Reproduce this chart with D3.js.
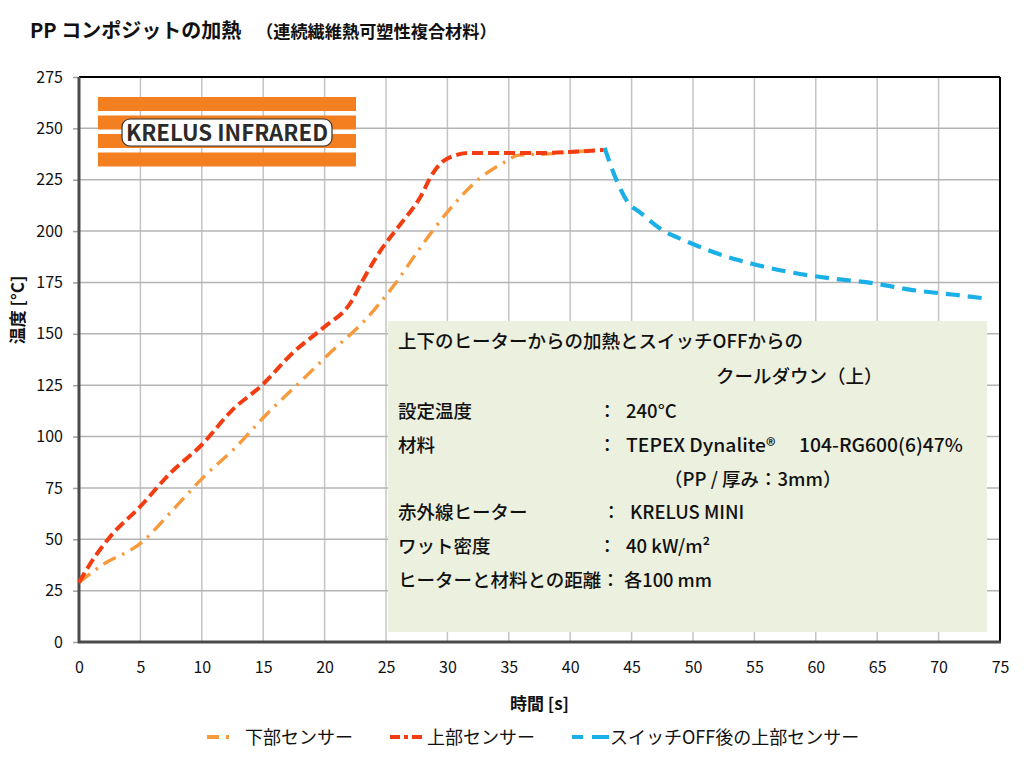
<!DOCTYPE html>
<html><head><meta charset="utf-8">
<script src="https://cdn.jsdelivr.net/npm/d3@7"></script>
<style>
html,body{margin:0;padding:0;background:#fff;}
svg{display:block;}
text{font-family:"Noto Sans CJK JP","Noto Sans",sans-serif;}
</style></head>
<body>
<svg id="c" width="1024" height="768"></svg>
<script>
// ---- data ----
const timeLower = [0, 1.9, 5, 7.6, 10.1, 12.8, 15.3, 18, 20.6, 23.3, 25.7, 27.8, 30.1, 32.7, 34.5, 35.8, 37.9, 41.2, 42.8];
const tempLower = [29, 37.5, 48, 64, 80, 95, 111, 126.5, 141.6, 156.7, 174, 192, 210, 226, 233, 237, 237.5, 239, 239.5];
const timeUpper = [0, 0.8, 2.5, 5, 7.4, 10, 12.5, 14.9, 17.4, 19.9, 22.1, 23.1, 24.5, 26, 27.8, 28.8, 29.9, 31.8, 34.5, 37.5, 40.5, 42.7];
const tempUpper = [29, 37, 51, 66, 82, 96, 113, 125, 140.7, 153, 165, 176, 190, 202, 216.6, 228, 235, 238, 238, 238, 238.7, 239.5];
const timeCool = [42.8, 43.9, 44.7, 45.7, 47.5, 49.2, 51.2, 53.6, 55.2, 57.9, 61.2, 64.6, 67.9, 71.3, 74.1];
const tempCool = [240.5, 223, 214, 209, 200.5, 195.7, 190.8, 186, 183.5, 180, 177, 174.7, 171.3, 169, 167];
const xTicks = d3.range(0, 76, 5);
const yTicks = d3.range(0, 276, 25);
const seriesNames = ["下部センサー", "上部センサー", "スイッチOFF後の上部センサー"];
const titleMain = "PP コンポジットの加熱";
const titleSub = "（連続繊維熱可塑性複合材料）";
const xLabel = "時間 [s]";
const yLabel = "温度 [°C]";
const logoText = "KRELUS INFRARED";
const noteLines = [
  ["上下のヒーターからの加熱とスイッチOFFからの", "", ""],
  ["", "", "クールダウン（上）"],
  ["設定温度", "：", "240°C"],
  ["材料", "：", "TEPEX Dynalite®　 104-RG600(6)47%"],
  ["", "", "（PP / 厚み：3mm）"],
  ["赤外線ヒーター", "：", "KRELUS MINI"],
  ["ワット密度", "：", "40 kW/m²"],
  ["ヒーターと材料との距離：", "", "各100 mm"]
];

// ---- layout ----
const svg = d3.select("#c");
const L = 79, R = 1000, T = 77, B = 642;
const x = d3.scaleLinear().domain([0, 75]).range([L, R]);
const y = d3.scaleLinear().domain([0, 275]).range([B, T]);

// title
svg.append("text").attr("x", 30).attr("y", 38).attr("font-size", 20).attr("font-weight", 700)
  .attr("fill", "#111").text(titleMain);
svg.append("text").attr("x", 256).attr("y", 38).attr("font-size", 17.2).attr("font-weight", 700)
  .attr("fill", "#111").text(titleSub);

// grid
const g = svg.append("g");
g.selectAll("line.v").data(xTicks.slice(1, -1)).join("line")
  .attr("x1", d => x(d)).attr("x2", d => x(d)).attr("y1", T).attr("y2", B)
  .attr("stroke", "#c4c4c4").attr("stroke-width", 1.5);
g.selectAll("line.h").data(yTicks.slice(1, -1)).join("line")
  .attr("x1", L).attr("x2", R).attr("y1", d => y(d)).attr("y2", d => y(d))
  .attr("stroke", "#b4b4b4").attr("stroke-width", 1.5);

// y axis
const yAxis = svg.append("g").attr("transform", `translate(${L},0)`)
  .call(d3.axisLeft(y).tickValues(yTicks).tickSize(6).tickPadding(10));
yAxis.select(".domain").remove();
yAxis.selectAll(".tick line").attr("stroke", "#a0a0a0").attr("stroke-width", 1.5);
yAxis.selectAll(".tick text").attr("font-family", "Lato, 'Open Sans', sans-serif").attr("font-size", 16).attr("fill", "#111");

// x axis
const xAxis = svg.append("g").attr("transform", `translate(0,${B})`)
  .call(d3.axisBottom(x).tickValues(xTicks).tickSize(0).tickPadding(20));
xAxis.select(".domain").remove();
xAxis.selectAll(".tick text").attr("font-family", "Lato, 'Open Sans', sans-serif").attr("font-size", 16).attr("fill", "#111");

// frame
svg.append("line").attr("x1", L).attr("x2", R).attr("y1", T).attr("y2", T).attr("stroke", "#000").attr("stroke-width", 2);
svg.append("line").attr("x1", R).attr("x2", R).attr("y1", T).attr("y2", B).attr("stroke", "#000").attr("stroke-width", 2);
svg.append("line").attr("x1", L).attr("x2", L).attr("y1", T).attr("y2", B + 1).attr("stroke", "#4a4a4a").attr("stroke-width", 3);
svg.append("line").attr("x1", L - 1).attr("x2", R + 1).attr("y1", B).attr("y2", B).attr("stroke", "#4a4a4a").attr("stroke-width", 3);

// logo
const logo = svg.append("g");
[[97, 14], [115.5, 14], [134, 14], [152.5, 14]].forEach(([yy, h]) =>
  logo.append("rect").attr("x", 98).attr("y", yy).attr("width", 258).attr("height", h).attr("fill", "#f47f20"));
logo.append("rect").attr("x", 122).attr("y", 119).attr("width", 210).attr("height", 27).attr("rx", 8)
  .attr("fill", "#fff").attr("stroke", "#333").attr("stroke-width", 1.2);
logo.append("text").attr("x", 227).attr("y", 141).attr("text-anchor", "middle")
  .attr("font-family", "Roboto, 'Liberation Sans', sans-serif").attr("font-size", 22).attr("font-weight", 700)
  .attr("fill", "#2b2b2b").attr("textLength", 202).attr("lengthAdjust", "spacingAndGlyphs").text(logoText);

// note box
svg.append("rect").attr("x", 388).attr("y", 321).attr("width", 599).attr("height", 311).attr("fill", "#ebf0df");
const noteY = [341, 376, 411, 445, 479, 512, 546, 580];
const note = svg.append("g").attr("font-size", 18.5).attr("font-weight", 500).attr("fill", "#111");
noteLines.forEach((ln, i) => {
  const yy = noteY[i] + 6.5;
  if (i === 1) { note.append("text").attr("x", 716).attr("y", yy).text(ln[2]); return; }
  if (i === 4) { note.append("text").attr("x", 664).attr("y", yy).text(ln[2]); return; }
  note.append("text").attr("x", 398).attr("y", yy).text(ln[0]);
  if (ln[1]) note.append("text").attr("x", i === 5 ? 602 : 598).attr("y", yy).text(ln[1]);
  if (ln[2]) {
    const t = note.append("text").attr("x", i === 7 ? 624 : (i === 5 ? 630 : 626)).attr("y", yy)
      .attr("font-family", i === 7 ? null : "'Roboto','Noto Sans',sans-serif").text(ln[2]);
    if (i === 3) t.attr("textLength", 337).attr("lengthAdjust", "spacingAndGlyphs");
    if (i === 7) t.attr("textLength", 88).attr("lengthAdjust", "spacingAndGlyphs");
  }
});

// lines
const line = d3.line().x(d => x(d[0])).y(d => y(d[1])).curve(d3.curveMonotoneX);
const styles = [
  {c: "#f79a3c", dash: "14 7 2.5 7", w: 3.4},
  {c: "#f23c12", dash: "11 5", w: 4},
  {c: "#1aafe6", dash: "14 8", w: 4.2}
];
const series = [
  d3.zip(timeLower, tempLower),
  d3.zip(timeUpper, tempUpper),
  d3.zip(timeCool, tempCool)
];
series.forEach((s, i) => {
  svg.append("path").datum(s).attr("d", line).attr("fill", "none")
    .attr("stroke", styles[i].c).attr("stroke-width", styles[i].w)
    .attr("stroke-dasharray", styles[i].dash).attr("stroke-linecap", "butt");
});

// axis titles
svg.append("text").attr("x", (L + R) / 2).attr("y", 710).attr("text-anchor", "middle")
  .attr("font-size", 17).attr("font-weight", 700).attr("fill", "#111").text(xLabel);
svg.append("text").attr("transform", "translate(24,310) rotate(-90)").attr("text-anchor", "middle")
  .attr("font-size", 17).attr("font-weight", 700).attr("fill", "#111").text(yLabel);

// legend
const legX = [[207, 236, 245], [390, 426, 427], [572, 609, 610]];
const legDash = ["12 7 3 7", "10 4 4 4", "11 9 8 0"];
seriesNames.forEach((n, i) => {
  svg.append("line").attr("x1", legX[i][0]).attr("x2", legX[i][1]).attr("y1", 737).attr("y2", 737)
    .attr("stroke", styles[i].c).attr("stroke-width", 4).attr("stroke-dasharray", legDash[i]);
  svg.append("text").attr("x", legX[i][2]).attr("y", 744).attr("font-size", 18).attr("fill", "#111").text(n);
});
</script>
</body></html>
